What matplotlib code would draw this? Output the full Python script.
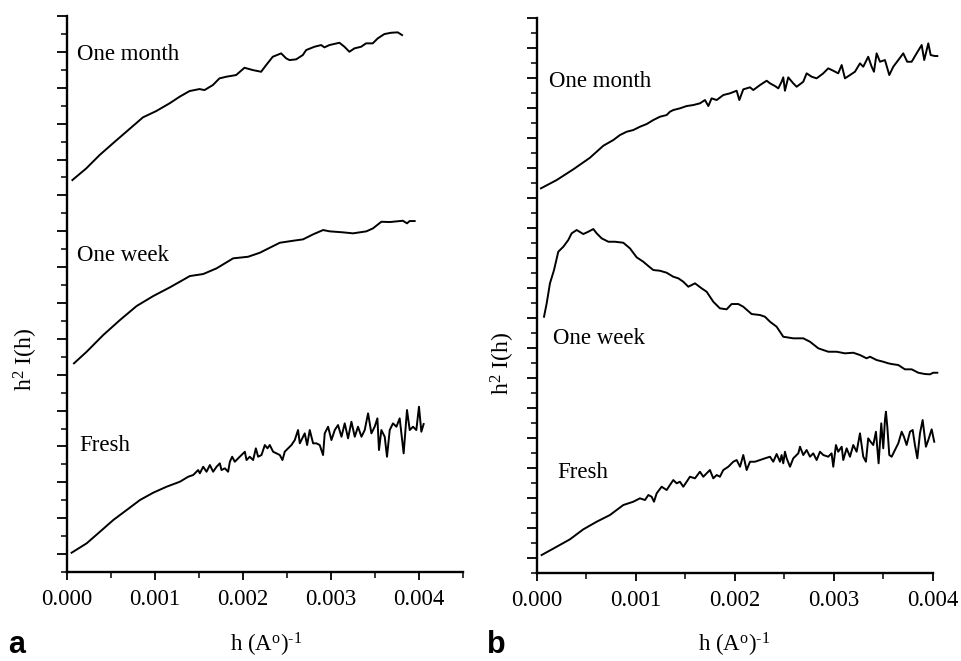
import numpy as np
import matplotlib
matplotlib.use("Agg")
import matplotlib.pyplot as plt
from matplotlib.ticker import FixedLocator, NullFormatter

plt.rcParams['font.family'] = ['Liberation Serif', 'DejaVu Serif']
plt.rcParams['mathtext.fontset'] = 'custom'
plt.rcParams['mathtext.rm'] = 'Liberation Serif'
plt.rcParams['mathtext.it'] = 'Liberation Serif:italic'

# ---------------- Panel a data (h in 1/A, intensity in arbitrary units) ----------------
a_month_h = [0.000065, 0.000223, 0.000374, 0.000525, 0.000677, 0.000866, 0.001017, 0.001168, 0.001282, 0.001395,
             0.001508, 0.001565, 0.001660, 0.001735, 0.001811, 0.001924, 0.002019, 0.002113, 0.002208, 0.002265,
             0.002340, 0.002435, 0.002492, 0.002530, 0.002605, 0.002681, 0.002719, 0.002813, 0.002889, 0.002927,
             0.002983, 0.003097, 0.003154, 0.003210, 0.003267, 0.003343, 0.003399, 0.003475, 0.003532, 0.003607,
             0.003683, 0.003759, 0.003808]
a_month_y = [39.2, 40.37, 41.7, 42.87, 44.03, 45.47, 46.1, 46.87, 47.53, 48.1,
             48.3, 48.2, 48.7, 49.37, 49.53, 49.7, 50.43, 50.2, 50.03, 50.7,
             51.53, 51.87, 51.37, 51.2, 51.27, 51.7, 52.2, 52.53, 52.7, 52.47,
             52.7, 52.93, 52.53, 52.03, 52.37, 52.53, 52.87, 52.87, 53.37, 53.8,
             53.93, 53.97, 53.7]

a_week_h = [0.000083, 0.000227, 0.000415, 0.000605, 0.000794, 0.000983, 0.001172, 0.001399, 0.001550, 0.001702,
            0.001890, 0.002060, 0.002193, 0.002306, 0.002420, 0.002571, 0.002684, 0.002798, 0.002911, 0.002987,
            0.003138, 0.003251, 0.003403, 0.003478, 0.003573, 0.003668, 0.003818, 0.003864, 0.003894, 0.003951]
a_week_y = [20.87, 22.03, 23.7, 25.2, 26.6, 27.6, 28.47, 29.6, 29.8, 30.37,
            31.37, 31.53, 31.93, 32.43, 32.93, 33.13, 33.27, 33.77, 34.2, 34.07,
            33.97, 33.87, 34.07, 34.37, 35.03, 35.0, 35.13, 34.87, 35.1, 35.1]

a_fresh_h = [0.000056, 0.000227, 0.000378, 0.000529, 0.000681, 0.000832, 0.000982, 0.001134, 0.001285, 0.001380,
             0.001436, 0.001493, 0.001512, 0.001550, 0.001588, 0.001626, 0.001663, 0.001702, 0.001739, 0.001758,
             0.001796, 0.001833, 0.001853, 0.001879, 0.001909, 0.001947, 0.001985, 0.002023, 0.002042, 0.002079,
             0.002117, 0.002148, 0.002174, 0.002212, 0.002250, 0.002280, 0.002306, 0.002344, 0.002382, 0.002420,
             0.002450, 0.002476, 0.002514, 0.002552, 0.002590, 0.002627, 0.002647, 0.002684, 0.002703, 0.002730,
             0.002760, 0.002798, 0.002836, 0.002873, 0.002911, 0.002930, 0.002968, 0.003006, 0.003044, 0.003081,
             0.003120, 0.003157, 0.003195, 0.003233, 0.003271, 0.003308, 0.003347, 0.003384, 0.003422, 0.003460,
             0.003497, 0.003528, 0.003546, 0.003573, 0.003611, 0.003637, 0.003668, 0.003705, 0.003744, 0.003781,
             0.003826, 0.003864, 0.003895, 0.003932, 0.003970, 0.004000, 0.004027, 0.004053]
a_fresh_y = [1.93, 2.87, 4.03, 5.2, 6.2, 7.2, 7.93, 8.53, 9.03, 9.53,
             9.7, 10.2, 9.87, 10.53, 10.03, 10.7, 10.03, 10.53, 10.87, 10.2,
             10.37, 10.03, 11.03, 11.53, 11.03, 11.37, 11.7, 12.03, 11.2, 11.53,
             11.2, 12.37, 11.53, 11.7, 12.7, 12.37, 12.7, 12.03, 11.87, 11.7,
             11.2, 12.03, 12.37, 12.7, 13.2, 14.2, 12.87, 13.53, 13.87, 12.7,
             14.2, 12.87, 12.87, 12.7, 11.7, 13.87, 14.53, 13.2, 14.2, 14.7,
             13.53, 14.87, 13.37, 15.03, 13.53, 14.53, 13.53, 14.2, 15.87, 13.87,
             14.53, 15.37, 12.2, 14.2, 13.53, 11.53, 14.2, 14.87, 14.53, 15.37,
             11.87, 16.2, 14.2, 14.53, 14.2, 16.53, 14.03, 14.8]

# ---------------- Panel b data ----------------
b_month_h = [0.000040, 0.000199, 0.000367, 0.000535, 0.000670, 0.000771, 0.000838, 0.000906, 0.000973, 0.001040,
             0.001108, 0.001175, 0.001242, 0.001310, 0.001343, 0.001377, 0.001444, 0.001512, 0.001579, 0.001646,
             0.001697, 0.001731, 0.001764, 0.001815, 0.001882, 0.001949, 0.002017, 0.002044, 0.002084, 0.002152,
             0.002185, 0.002253, 0.002320, 0.002354, 0.002404, 0.002438, 0.002471, 0.002488, 0.002505, 0.002538,
             0.002589, 0.002623, 0.002690, 0.002724, 0.002775, 0.002825, 0.002892, 0.002942, 0.002993, 0.003043,
             0.003078, 0.003111, 0.003162, 0.003212, 0.003263, 0.003296, 0.003346, 0.003381, 0.003404, 0.003431,
             0.003465, 0.003515, 0.003559, 0.003599, 0.003650, 0.003700, 0.003740, 0.003785, 0.003835, 0.003886,
             0.003912, 0.003953, 0.003977, 0.004020, 0.004044]
b_month_y = [38.47, 39.3, 40.37, 41.53, 42.73, 43.3, 43.8, 44.13, 44.3, 44.63,
             44.9, 45.3, 45.63, 45.8, 46.13, 46.3, 46.47, 46.7, 46.8, 46.97,
             47.3, 46.7, 47.47, 47.3, 47.8, 47.97, 48.23, 47.3, 48.37, 48.57,
             48.3, 48.8, 49.23, 48.97, 48.7, 48.47, 49.13, 49.57, 48.23, 49.57,
             48.97, 48.63, 49.13, 49.97, 49.63, 49.47, 49.97, 50.47, 50.23, 49.97,
             50.8, 49.47, 49.8, 50.13, 50.97, 50.63, 51.63, 50.63, 50.13, 51.97,
             51.13, 51.3, 49.8, 50.63, 51.3, 51.97, 51.13, 51.13, 51.97, 52.8,
             51.3, 52.97, 51.8, 51.7, 51.7]

b_week_h = [0.000071, 0.000098, 0.000131, 0.000172, 0.000215, 0.000266, 0.000316, 0.000350, 0.000401, 0.000468,
            0.000518, 0.000569, 0.000603, 0.000653, 0.000721, 0.000788, 0.000872, 0.000939, 0.001007, 0.001074,
            0.001125, 0.001175, 0.001242, 0.001310, 0.001377, 0.001428, 0.001478, 0.001529, 0.001596, 0.001663,
            0.001714, 0.001781, 0.001848, 0.001916, 0.001966, 0.002034, 0.002084, 0.002168, 0.002253, 0.002303,
            0.002354, 0.002421, 0.002488, 0.002589, 0.002690, 0.002758, 0.002842, 0.002943, 0.003027, 0.003111,
            0.003195, 0.003263, 0.003330, 0.003364, 0.003431, 0.003498, 0.003549, 0.003583, 0.003650, 0.003717,
            0.003785, 0.003852, 0.003919, 0.003970, 0.004003, 0.004044]
b_week_y = [25.63, 26.97, 28.97, 30.3, 32.13, 32.63, 33.3, 33.97, 34.3, 33.9,
            34.13, 34.4, 33.97, 33.47, 33.13, 33.13, 33.03, 32.47, 31.57, 31.13,
            30.7, 30.3, 30.23, 30.03, 29.63, 29.47, 29.13, 28.63, 28.97, 28.47,
            28.13, 27.13, 26.47, 26.37, 26.9, 26.9, 26.63, 25.9, 25.8, 25.63,
            25.13, 24.63, 23.63, 23.47, 23.47, 23.13, 22.47, 22.13, 22.13, 21.97,
            22.03, 21.8, 21.47, 21.63, 21.3, 21.13, 20.97, 20.9, 20.8, 20.37,
            20.37, 20.03, 19.9, 19.87, 20.03, 20.03]

b_fresh_h = [0.000047, 0.000199, 0.000333, 0.000468, 0.000603, 0.000737, 0.000872, 0.000973, 0.001040, 0.001091,
             0.001125, 0.001158, 0.001182, 0.001209, 0.001259, 0.001310, 0.001343, 0.001377, 0.001411, 0.001444,
             0.001478, 0.001512, 0.001545, 0.001596, 0.001646, 0.001680, 0.001714, 0.001747, 0.001781, 0.001815,
             0.001848, 0.001882, 0.001933, 0.001983, 0.002017, 0.002051, 0.002084, 0.002118, 0.002152, 0.002202,
             0.002253, 0.002303, 0.002354, 0.002387, 0.002421, 0.002455, 0.002471, 0.002488, 0.002505, 0.002522,
             0.002556, 0.002589, 0.002640, 0.002657, 0.002690, 0.002724, 0.002758, 0.002791, 0.002825, 0.002859,
             0.002892, 0.002942, 0.002976, 0.002993, 0.003020, 0.003043, 0.003078, 0.003094, 0.003128, 0.003162,
             0.003195, 0.003229, 0.003263, 0.003296, 0.003323, 0.003346, 0.003370, 0.003397, 0.003424, 0.003451,
             0.003478, 0.003498, 0.003515, 0.003525, 0.003539, 0.003559, 0.003583, 0.003616, 0.003650, 0.003684,
             0.003707, 0.003734, 0.003768, 0.003795, 0.003818, 0.003842, 0.003869, 0.003896, 0.003929, 0.003953,
             0.003987, 0.004013]
b_fresh_y = [1.8, 2.63, 3.37, 4.37, 5.13, 5.8, 6.8, 7.13, 7.47, 7.3,
             7.8, 7.63, 7.13, 7.97, 8.63, 8.3, 8.8, 9.3, 8.97, 9.13,
             8.63, 9.13, 9.63, 9.47, 10.13, 9.63, 9.97, 10.3, 9.47, 9.8,
             9.63, 10.3, 10.63, 11.13, 11.3, 10.63, 11.8, 10.3, 11.13, 11.13,
             11.3, 11.47, 11.63, 11.13, 11.9, 11.13, 11.8, 10.97, 12.13, 11.47,
             10.63, 11.47, 11.97, 12.63, 11.8, 12.3, 11.63, 11.97, 11.3, 12.13,
             11.8, 11.63, 11.97, 10.63, 12.8, 12.13, 12.63, 11.3, 12.47, 11.63,
             12.8, 12.13, 13.97, 11.63, 11.13, 13.47, 13.13, 12.8, 14.13, 10.97,
             14.97, 12.47, 15.3, 16.13, 14.63, 11.8, 11.63, 12.3, 12.97, 14.13,
             13.63, 12.8, 14.13, 14.3, 12.8, 11.47, 13.97, 15.3, 12.63, 13.3,
             14.37, 13.13]

x_major_ticks = [0.000, 0.001, 0.002, 0.003, 0.004]
x_tick_labels = ["0.000", "0.001", "0.002", "0.003", "0.004"]
series_labels = ["One month", "One week", "Fresh"]

FS = 16.5
fig = plt.figure(figsize=(9.62, 6.61), dpi=100)
axa = fig.add_axes([0.0693, 0.1346, 0.4120, 0.8411])
axb = fig.add_axes([0.5582, 0.1331, 0.4116, 0.8396])


def style_axis(ax, xmax, ymax, nint, xminor):
    ax.set_xlim(0, xmax)
    ax.set_ylim(0, ymax)
    for s in ['top', 'right']:
        ax.spines[s].set_visible(False)
    for s in ['left', 'bottom']:
        ax.spines[s].set_linewidth(1.7)
    ax.xaxis.set_major_locator(FixedLocator(x_major_ticks))
    ax.set_xticklabels(x_tick_labels, fontsize=FS)
    ax.xaxis.set_minor_locator(FixedLocator(xminor))
    yt = np.linspace(0, ymax, nint + 1)
    ax.yaxis.set_major_locator(FixedLocator(yt[1::2]))
    ax.yaxis.set_minor_locator(FixedLocator(yt[0::2]))
    ax.yaxis.set_major_formatter(NullFormatter())
    ax.tick_params(axis='x', which='major', direction='out', length=6, width=1.3, pad=6)
    ax.tick_params(axis='x', which='minor', direction='out', length=4, width=1.1)
    ax.tick_params(axis='y', which='major', direction='out', length=7, width=1.3)
    ax.tick_params(axis='y', which='minor', direction='out', length=4.5, width=1.1)


style_axis(axa, 0.0045, 55.6, 31, [0.0005, 0.0015, 0.0025, 0.0035, 0.0045])
style_axis(axb, 0.004, 55.5, 37, [0.0005, 0.0015, 0.0025, 0.0035])

lw = 1.4
for ax, hs, ys in [(axa, a_month_h, a_month_y), (axa, a_week_h, a_week_y), (axa, a_fresh_h, a_fresh_y),
                   (axb, b_month_h, b_month_y), (axb, b_week_h, b_week_y), (axb, b_fresh_h, b_fresh_y)]:
    ax.plot(hs, ys, color='black', lw=lw, clip_on=False, solid_joinstyle='round')

# curve labels
for ax, pos in [(axa, [(0.026, 0.930), (0.026, 0.570), (0.031, 0.228)]),
                (axb, [(0.030, 0.885), (0.040, 0.423), (0.051, 0.182)])]:
    for lab, (x, y) in zip(series_labels, pos):
        ax.text(x, y, lab, transform=ax.transAxes, fontsize=FS, ha='left', va='center')

xlabel = r'h (A$^{\mathrm{o}}$)$^{\text{-1}}$'
ylabel = r'h$^{2}$ I(h)'
axa.text(0.503, -0.131, xlabel, transform=axa.transAxes, fontsize=FS, ha='center', va='center')
axb.text(0.497, -0.130, xlabel, transform=axb.transAxes, fontsize=FS, ha='center', va='center')
axa.text(-0.103, 0.383, ylabel, transform=axa.transAxes, fontsize=FS + 0.5, ha='center', va='center', rotation=90)
axb.text(-0.086, 0.377, ylabel, transform=axb.transAxes, fontsize=FS + 0.5, ha='center', va='center', rotation=90)

fig.text(0.0177, 0.024, 'a', fontsize=22, fontweight='bold', family=['Liberation Sans', 'DejaVu Sans'],
         ha='center', va='center')
fig.text(0.5156, 0.024, 'b', fontsize=22, fontweight='bold', family=['Liberation Sans', 'DejaVu Sans'],
         ha='center', va='center')

fig.savefig('out.png', dpi=100)
